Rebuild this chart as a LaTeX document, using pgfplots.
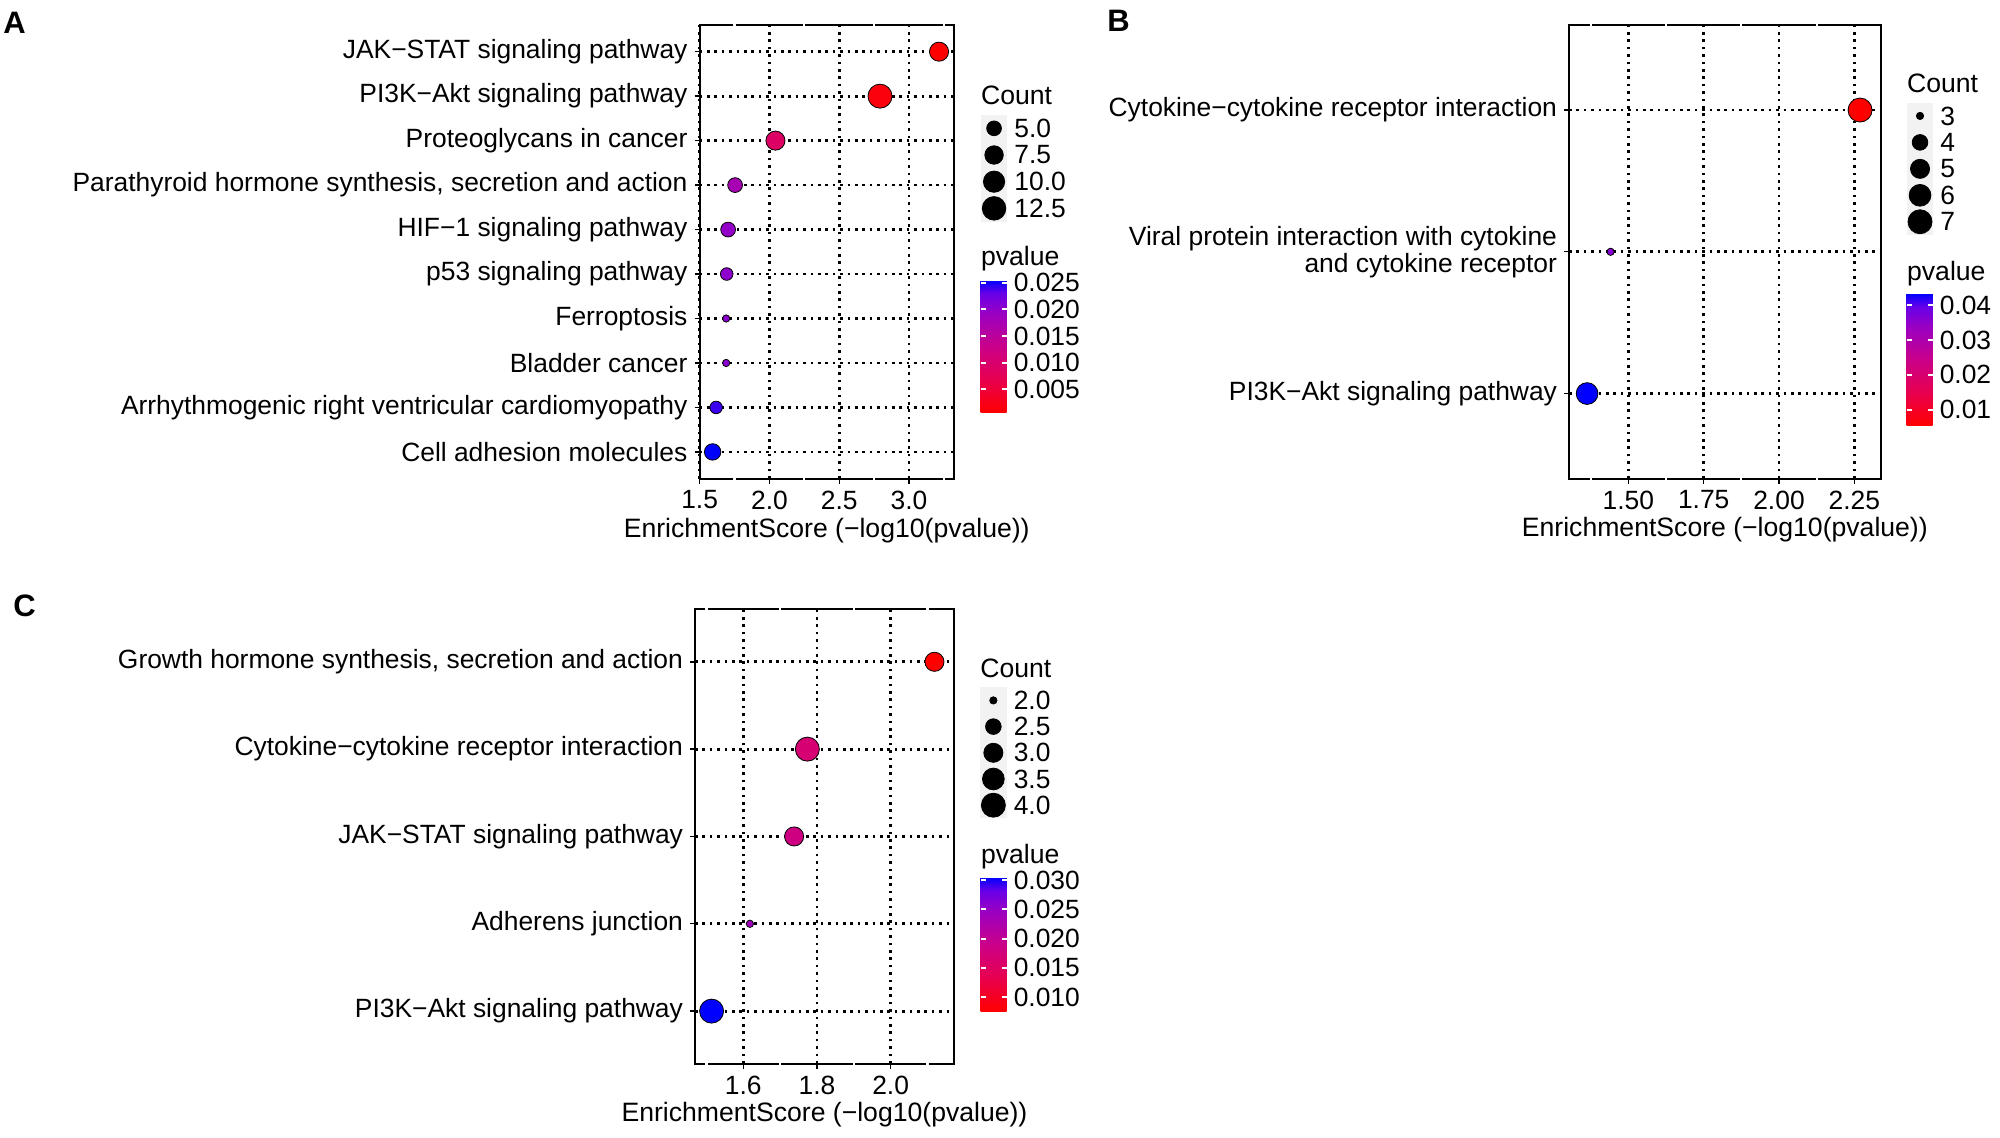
\documentclass[border=0pt]{standalone}
\usepackage{pgfplots}
\pgfplotsset{compat=1.18}
\usepackage{pgfplotstable}
\usepackage{fontspec}
\setmainfont{Liberation Sans}
\usetikzlibrary{calc}

\definecolor{keygrey}{RGB}{242,242,242}
\newcommand{\tickfont}{\fontsize{13.2}{13.6}\selectfont}
\newcommand{\titlefont}{\fontsize{13.3}{15}\selectfont}
\newcommand{\gap}[2]{\draw[white, line width=1.1pt] ([yshift=-0.9pt]axis cs:#1,#2) -- ([yshift=0.9pt]axis cs:#1,#2);}

\pgfplotsset{
  colormap={ggrb}{rgb255(0cm)=(255,0,0); rgb255(1cm)=(232,0,79); rgb255(2cm)=(202,0,137); rgb255(3cm)=(154,0,195); rgb255(3.6cm)=(104,0,231); rgb255(4cm)=(0,0,255)},
  dotplot/.style={
    scale only axis,
    anchor=north west,
    colormap name=ggrb,
    xmajorgrids, ymajorgrids,
    major grid style={black, line width=1.4pt, dash pattern=on 1.3pt off 2.4pt},
    axis line style={black, line width=1pt},
    tick pos=left, tick align=outside,
    major tick length=2.5pt,
    tick style={black, line width=0.7pt},
    ticklabel style={font=\tickfont},
    yticklabel style={align=right},
    /pgf/number format/assume math mode=true,
    xlabel={EnrichmentScore (−log10(pvalue))},
    every axis x label/.style={at={(axis description cs:0.5,0)}, anchor=base, yshift=-29.2pt, font=\titlefont},
    clip mode=individual,
    colorbar,
    colorbar style={
      anchor=north west,
      scale only axis,
      width=13pt,
      axis line style={draw=none},
      axis on top,
      scaled y ticks=false,
      tick align=inside,
      ytick pos=both,
      yticklabel pos=right,
      major tick length=2.5pt,
      tick style={white, line width=1pt},
      major tick style={white, line width=1pt},
      yticklabel style={font=\tickfont},
    },
  },
  pscatter/.style n args={3}{
    scatter, only marks, mark=*,
    scatter src=explicit,
    scatter/use mapped color={draw=none, fill=#3},
    visualization depends on={\thisrow{count} \as \cnt},
    scatter/@pre marker code/.append style={/tikz/mark size={(7.3+16.7*sqrt((\cnt-#1)/(#2-#1)))/4}},
  },
  legendbox/.style={
    scale only axis,
    anchor=north west,
    xmin=0, xmax=1,
    axis background/.style={fill=keygrey},
    axis line style={draw=none},
    xtick=\empty,
    ytick pos=right,
    yticklabel pos=right,
    major tick length=0pt,
    tick style={draw=none},
    ticklabel style={font=\tickfont},
    clip=false,
  },
}

\pgfplotstableread{
x y p count
3.215 10 0.00061 8
2.792 9 0.00161 13
2.043 8 0.00906 8
1.754 7 0.01762 5
1.704 6 0.01977 5
1.694 5 0.02023 4
1.690 4 0.02042 3
1.690 3 0.02042 3
1.618 2 0.02410 4
1.593 1 0.02553 6
}\dataA

\pgfplotstableread{
x y count
0.5 4 5.0
0.5 3 7.5
0.5 2 10.0
0.5 1 12.5
}\legA

\pgfplotstableread{
x y p count
2.269 3 0.00538 7
1.441 2 0.03620 3
1.363 1 0.04340 6
}\dataB

\pgfplotstableread{
x y count
0.5 5 3
0.5 4 4
0.5 3 5
0.5 2 6
0.5 1 7
}\legB

\pgfplotstableread{
x y p count
2.119 5 0.00760 3
1.774 4 0.01680 4
1.738 3 0.01830 3
1.618 2 0.02410 2
1.514 1 0.03050 4
}\dataC

\pgfplotstableread{
x y count
0.5 5 2.0
0.5 4 2.5
0.5 3 3.0
0.5 2 3.5
0.5 1 4.0
}\legC

\begin{document}
\begin{tikzpicture}
\path[use as bounding box] (0,0) rectangle (1000pt,-569pt);

% ---------------- Panel A ----------------
\begin{axis}[dotplot,
  at={(349.75pt,-12.5pt)}, width=127.25pt, height=226.8pt,
  xmin=1.499, xmax=3.322, ymin=0.4, ymax=10.6,
  xtick={1.5,2,2.5,3}, xticklabels={1.5,2.0,2.5,3.0},
  ytick={1,...,10},
  yticklabels={Cell adhesion molecules, Arrhythmogenic right ventricular cardiomyopathy, Bladder cancer, Ferroptosis, p53 signaling pathway, HIF−1 signaling pathway, {Parathyroid hormone synthesis, secretion and action}, Proteoglycans in cancer, PI3K−Akt signaling pathway, JAK−STAT signaling pathway},
  colorbar style={at={($(parent axis.north east)+(4.81pt,-127.5pt)$)}, height=66.35pt,
    ytick={0.005,0.01,0.015,0.02,0.025}, yticklabels={0.005,0.010,0.015,0.020,0.025}},
]
\addplot[pscatter={3}{13}{mapped color}] table[x=x, y=y, meta=p] {\dataA};
\gap{1.75}{0.4}\gap{2.25}{0.4}\gap{2.75}{0.4}\gap{3.25}{0.4}
\gap{1.75}{10.6}\gap{2.25}{10.6}\gap{2.75}{10.6}\gap{3.25}{10.6}
\end{axis}

\begin{axis}[legendbox, at={(490.35pt,-57.5pt)}, width=13.35pt, height=53.35pt,
  ymin=0.5, ymax=4.5, ytick={1,2,3,4}, yticklabels={12.5,10.0,7.5,5.0}]
\addplot[pscatter={3}{13}{black}] table[x=x, y=y, meta=count] {\legA};
\end{axis}
\node[anchor=base west, inner sep=0pt, font=\titlefont] at (490.35pt,-52.5pt) {Count};
\node[anchor=base west, inner sep=0pt, font=\titlefont] at (490.35pt,-133pt) {pvalue};

% ---------------- Panel B ----------------
\begin{axis}[dotplot,
  at={(784.5pt,-12.5pt)}, width=155.85pt, height=226.8pt,
  xmin=1.303, xmax=2.3376, ymin=0.4, ymax=3.6,
  xtick={1.5,1.75,2,2.25}, xticklabels={1.50,1.75,2.00,2.25},
  ytick={1,2,3},
  yticklabels={PI3K−Akt signaling pathway, {Viral protein interaction with cytokine\\and cytokine receptor}, Cytokine−cytokine receptor interaction},
  colorbar style={at={($(parent axis.north east)+(4.46pt,-134.3pt)$)}, height=66pt,
    ytick={0.01,0.02,0.03,0.04}, yticklabels={0.01,0.02,0.03,0.04}},
]
\addplot[pscatter={3}{7}{mapped color}] table[x=x, y=y, meta=p] {\dataB};
\gap{1.375}{0.4}\gap{1.625}{0.4}\gap{1.875}{0.4}\gap{2.125}{0.4}
\gap{1.375}{3.6}\gap{1.625}{3.6}\gap{1.875}{3.6}\gap{2.125}{3.6}
\end{axis}

\begin{axis}[legendbox, at={(953.35pt,-51.35pt)}, width=13.3pt, height=66.15pt,
  ymin=0.5, ymax=5.5, ytick={1,2,3,4,5}, yticklabels={7,6,5,4,3}]
\addplot[pscatter={3}{7}{black}] table[x=x, y=y, meta=count] {\legB};
\end{axis}
\node[anchor=base west, inner sep=0pt, font=\titlefont] at (953.35pt,-46.35pt) {Count};
\node[anchor=base west, inner sep=0pt, font=\titlefont] at (953.35pt,-140.3pt) {pvalue};

% ---------------- Panel C ----------------
\begin{axis}[dotplot,
  at={(347.5pt,-304.7pt)}, width=129.5pt, height=227.05pt,
  xmin=1.469, xmax=2.172, ymin=0.4, ymax=5.6,
  xtick={1.6,1.8,2.0}, xticklabels={1.6,1.8,2.0},
  ytick={1,...,5},
  yticklabels={PI3K−Akt signaling pathway, Adherens junction, JAK−STAT signaling pathway, Cytokine−cytokine receptor interaction, {Growth hormone synthesis, secretion and action}},
  colorbar style={at={($(parent axis.north east)+(4.81pt,-133.95pt)$)}, height=66.85pt,
    ytick={0.01,0.015,0.02,0.025,0.03}, yticklabels={0.010,0.015,0.020,0.025,0.030}},
]
\addplot[pscatter={2}{4}{mapped color}] table[x=x, y=y, meta=p] {\dataC};
\gap{1.5}{0.4}\gap{1.7}{0.4}\gap{1.9}{0.4}\gap{2.1}{0.4}
\gap{1.5}{5.6}\gap{1.7}{5.6}\gap{1.9}{5.6}\gap{2.1}{5.6}
\end{axis}

\begin{axis}[legendbox, at={(490pt,-343.65pt)}, width=13.35pt, height=65.5pt,
  ymin=0.5, ymax=5.5, ytick={1,2,3,4,5}, yticklabels={4.0,3.5,3.0,2.5,2.0}]
\addplot[pscatter={2}{4}{black}] table[x=x, y=y, meta=count] {\legC};
\end{axis}
\node[anchor=base west, inner sep=0pt, font=\titlefont] at (490pt,-338.65pt) {Count};
\node[anchor=base west, inner sep=0pt, font=\titlefont] at (490.35pt,-431.65pt) {pvalue};

% panel letters
\node[anchor=base west, inner sep=0pt, font=\fontsize{15.5}{17}\selectfont\bfseries] at (1.5pt,-17pt) {A};
\node[anchor=base west, inner sep=0pt, font=\fontsize{15.5}{17}\selectfont\bfseries] at (553.5pt,-16pt) {B};
\node[anchor=base west, inner sep=0pt, font=\fontsize{15.5}{17}\selectfont\bfseries] at (6.5pt,-308pt) {C};
\end{tikzpicture}
\end{document}
